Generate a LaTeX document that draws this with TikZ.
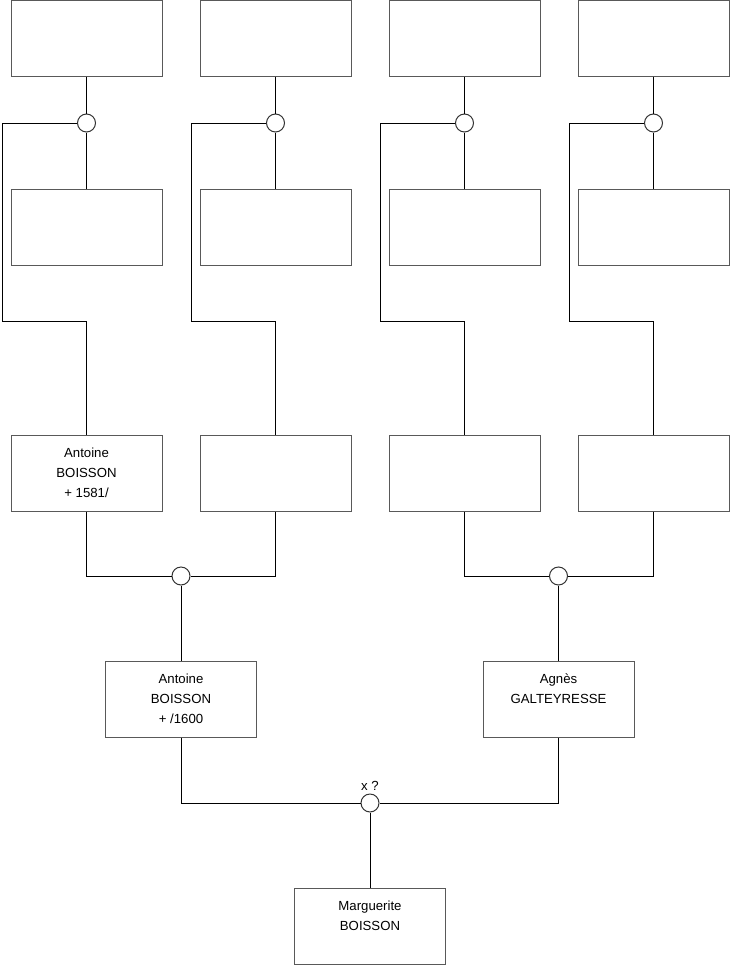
\documentclass[tikz,border=0pt]{standalone}
\usepackage{fontspec}
\setmainfont{Liberation Sans}
\usepackage{xcolor}
\usepackage{tikz}
\usetikzlibrary{positioning}

\begin{document}
\begin{tikzpicture}[
    x=0.75pt, y=-0.75pt,
    base/.style={draw=black!65, line width=0.75pt, align=center, font=\fontsize{9.9pt}{15pt}\selectfont},
    person/.style={base, minimum width=113.25pt, minimum height=57pt, inner sep=0pt},
    twoline/.style={person, text depth=15pt},
    union/.style={circle, draw=black!80, line width=0.75pt, fill=white, minimum size=13.5pt, inner sep=0pt},
    link/.style={draw=black, line width=0.75pt},
    labelnode/.style={font=\fontsize{9.9pt}{11pt}\selectfont, inner sep=1pt}
]
    \useasboundingbox (0,0) rectangle (740,975);

    % --- Nodes ---
    % Top row
    \node[person] (a1) at (86.5, 38) {};
    \node[person] (a2) at (275.5, 38) {};
    \node[person] (a3) at (464.5, 38) {};
    \node[person] (a4) at (653.5, 38) {};

    % Second row
    \node[person] (b1) at (86.5, 227) {};
    \node[person] (b2) at (275.5, 227) {};
    \node[person] (b3) at (464.5, 227) {};
    \node[person] (b4) at (653.5, 227) {};

    % Grandparents
    \node[person] (c1) at (86.5, 473) {Antoine\\BOISSON\\+ 1581/};
    \node[person] (c2) at (275.5, 473) {};
    \node[person] (c3) at (464.5, 473) {};
    \node[person] (c4) at (653.5, 473) {};

    % Parents
    \node[person] (d1) at (181, 699) {Antoine\\BOISSON\\+ /1600};
    \node[twoline] (d2) at (558.5, 699) {Agnès\\GALTEYRESSE};

    % Child
    \node[twoline] (e) at (370, 926) {Marguerite\\BOISSON};

    % Unions
    \node[union] (u1) at (86.5, 123) {};
    \node[union] (u2) at (275.5, 123) {};
    \node[union] (u3) at (464.5, 123) {};
    \node[union] (u4) at (653.5, 123) {};
    \node[union] (v1) at (181, 576) {};
    \node[union] (v2) at (558.5, 576) {};
    \node[union] (w) at (370, 803) {};
    \node[labelnode, above=1pt of w] (wlab) {x ?};

    % Bends
    \coordinate (k1) at (2, 321);
    \coordinate (k2) at (191, 321);
    \coordinate (k3) at (380, 321);
    \coordinate (k4) at (569, 321);

    % --- Edges ---
    \foreach \i in {1,...,4} {
        \draw[link] (a\i) -- (u\i);
        \draw[link] (u\i) -- (b\i);
        \draw[link] (u\i.west) -| (k\i) -| (c\i.north);
    }

    \draw[link] (c1.south) |- (v1.west);
    \draw[link] (c2.south) |- (v1.east);
    \draw[link] (v1) -- (d1);

    \draw[link] (c3.south) |- (v2.west);
    \draw[link] (c4.south) |- (v2.east);
    \draw[link] (v2) -- (d2);

    \draw[link] (d1.south) |- (w.west);
    \draw[link] (d2.south) |- (w.east);
    \draw[link] (w) -- (e);

\end{tikzpicture}
\end{document}
